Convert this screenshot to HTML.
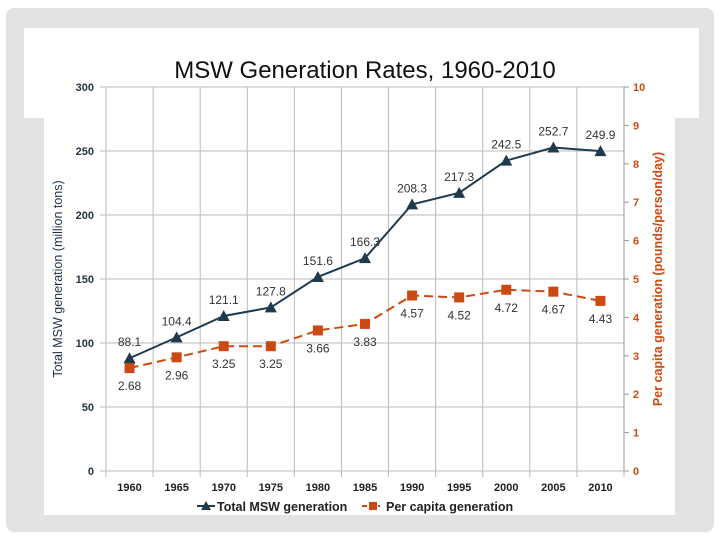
<!DOCTYPE html>
<html><head><meta charset="utf-8"><style>
body{margin:0;background:#fff;width:720px;height:540px;overflow:hidden;font-family:"Liberation Sans",sans-serif}
</style></head><body>
<svg width="720" height="540">
<rect x="6" y="8" width="708" height="524" rx="8" fill="#e3e3e3"/>
<rect x="24" y="28" width="675" height="90" fill="#fff"/>
<rect x="44" y="100" width="631" height="415" fill="#fff"/>
<text x="365" y="78" font-size="24" text-anchor="middle" fill="#111">MSW Generation Rates, 1960-2010</text>
<g id="grid"></g>
<g id="axes"></g>
<g id="series"></g>
<text transform="translate(62,279) rotate(-90)" font-size="12.5" text-anchor="middle" fill="#1f3347">Total  MSW generation  (million tons)</text>
<text transform="translate(662,279) rotate(-90)" font-size="12.5" font-weight="bold" text-anchor="middle" fill="#cc4a12">Per capita generation  (pounds/person/day)</text>
<g>
<line x1="197" y1="506" x2="215" y2="506" stroke="#1f3a4d" stroke-width="2"/>
<polygon points="206,501 211,510 201,510" fill="#1f3a4d"/>
<text x="217" y="511" font-size="12.5" font-weight="bold" fill="#222">Total MSW generation</text>
<line x1="362" y1="506" x2="380" y2="506" stroke="#cc4a12" stroke-width="2" stroke-dasharray="5,3"/>
<rect x="369" y="502" width="8" height="8" fill="#cc4a12"/>
<text x="386" y="511" font-size="12.5" font-weight="bold" fill="#222">Per capita generation</text>
</g>
</svg>
<script>
const years=["1960","1965","1970","1975","1980","1985","1990","1995","2000","2005","2010"];
const totalMSW=[88.1,104.4,121.1,127.8,151.6,166.3,208.3,217.3,242.5,252.7,249.9];
const perCapita=[2.68,2.96,3.25,3.25,3.66,3.83,4.57,4.52,4.72,4.67,4.43];
const leftTicks=[0,50,100,150,200,250,300];
const rightTicks=[0,1,2,3,4,5,6,7,8,9,10];
const NS="http://www.w3.org/2000/svg";
const L=106,R=624,T=87,B=471;
const bw=(R-L)/years.length;
const xs=i=>L+bw*(i+0.5);
const yl=v=>B-(v/300)*(B-T);
const yr=v=>B-(v/10)*(B-T);
function mk(p,tag,at,txt){const e=document.createElementNS(NS,tag);for(const k in at)e.setAttribute(k,at[k]);if(txt!==undefined)e.textContent=txt;document.getElementById(p).appendChild(e);return e;}
leftTicks.forEach(v=>{
 const g=mk('grid','line',{x1:L-6,x2:R,y1:yl(v),y2:yl(v),stroke:'#bbb','stroke-width':1});
 
 
 const t=mk('axes','text',{x:L-12,y:yl(v)+4,'font-size':11,'font-weight':'bold','text-anchor':'end',fill:'#1f3347'},v);
 
 
});
for(let i=0;i<=years.length;i++){
 const g=mk('grid','line',{x1:L+bw*i,x2:L+bw*i,y1:T,y2:B+6,stroke:'#bbb','stroke-width':1});
 
 
}
years.forEach((y,i)=>{
 const t=mk('axes','text',{x:xs(i),y:B+20,'font-size':11,'font-weight':'bold','text-anchor':'middle',fill:'#222'},y);
 
 
});
rightTicks.forEach(v=>{
 mk('axes','line',{x1:R,x2:R+5,y1:yr(v),y2:yr(v),stroke:'#999'});
 const t=mk('axes','text',{x:R+9,y:yr(v)+4,'font-size':11,'font-weight':'bold',fill:'#cc4a12'},v);
 
 
});
mk('axes','line',{x1:R,x2:R,y1:T,y2:B,stroke:'#999'});
const pl=mk('series','polyline',{points:perCapita.map((v,i)=>xs(i)+','+yr(v)).join(' '),fill:'none',stroke:'#cc4a12','stroke-width':2,'stroke-dasharray':'9,5'});


const tl=mk('series','polyline',{points:totalMSW.map((v,i)=>xs(i)+','+yl(v)).join(' '),fill:'none',stroke:'#1f3a4d','stroke-width':2});


perCapita.forEach((v,i)=>{
 const x=xs(i),y=yr(v);
 const r=mk('series','rect',{x:x-5,y:y-5,width:10,height:10,fill:'#cc4a12'});
 
 
 const t=mk('series','text',{x:x,y:y+22,'font-size':12,'text-anchor':'middle',fill:'#333'},v.toFixed(2));
 
 
});
totalMSW.forEach((v,i)=>{
 const x=xs(i),y=yl(v);
 const p=mk('series','polygon',{points:`${x},${y-6} ${x+6},${y+5} ${x-6},${y+5}`,fill:'#1f3a4d'});
 
 
 const t=mk('series','text',{x:x,y:y-12,'font-size':12,'text-anchor':'middle',fill:'#333'},v.toFixed(1));
 
 
});
</script>
</body></html>
